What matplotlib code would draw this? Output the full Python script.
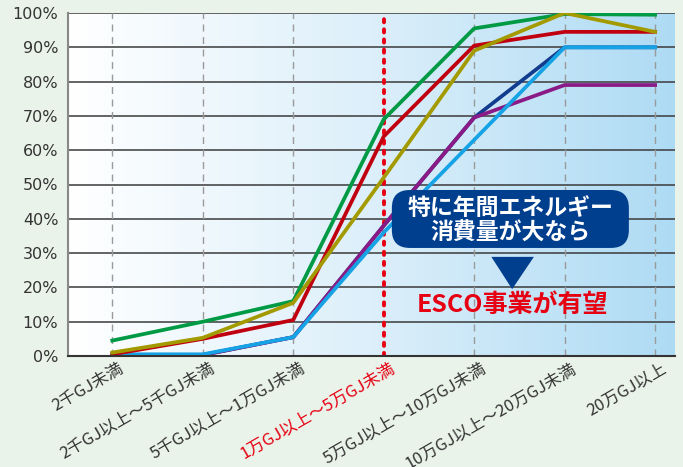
import numpy as np
import matplotlib.pyplot as plt
from matplotlib.patches import FancyBboxPatch, Polygon
from matplotlib.colors import LinearSegmentedColormap
from matplotlib import transforms

plt.rcParams['font.family'] = ['Noto Sans CJK JP', 'DejaVu Sans']

categories = ['2千GJ未満', '2千GJ以上～5千GJ未満', '5千GJ以上～1万GJ未満',
              '1万GJ以上～5万GJ未満', '5万GJ以上～10万GJ未満',
              '10万GJ以上～20万GJ未満', '20万GJ以上']
green = [4.5, 10, 16, 69, 95.5, 99.7, 99.5]
red = [0.5, 5, 10.5, 64, 90.5, 94.5, 94.5]
olive = [1, 5.3, 15.5, 52, 89, 100, 94.5]
navy = [0.3, 0.3, 5.5, 38, 69.5, 90, 90]
purple = [0.3, 0.3, 5.5, 38, 69.5, 79, 79]
lightblue = [0.5, 0.5, 5.5, 36, 63, 90, 90]
yticks = [0, 10, 20, 30, 40, 50, 60, 70, 80, 90, 100]

fig = plt.figure(figsize=(6.83, 4.67), dpi=100, facecolor='#EAF3EA')
ax = fig.add_axes([68/683, 1-356/467, 607/683, 343/467])
x = np.arange(len(categories))
x0, x1 = -0.49, 6.22
ax.set_xlim(x0, x1)
ax.set_ylim(0, 100)

# gradient background
cmap = LinearSegmentedColormap.from_list('bg', ['#FFFFFF', '#DCEFFA', '#AEDBF4'])
grad = np.linspace(0, 1, 256).reshape(1, -1)
ax.imshow(grad, cmap=cmap, extent=[x0, x1, 0, 100], aspect='auto', zorder=0)

for yv in yticks[1:]:
    ax.axhline(yv, color='#3a3a3a', lw=1.1, zorder=1)
for i in x:
    if i == 3:
        ax.plot([i, i], [0, 100], color='#E60012', lw=2.8, ls=(0, (0.8, 1.8)),
                dash_capstyle='round', zorder=1.5)
    else:
        ax.plot([i, i], [0, 100], color='#9a9a9a', lw=1, ls=(0, (5, 4)), zorder=1)

lw = 2.7
ax.plot(x, navy, color='#123C8E', lw=lw, zorder=3)
ax.plot(x, purple, color='#8A1A86', lw=lw, zorder=3.1)
ax.plot(x, lightblue, color='#16A3E6', lw=lw, zorder=3.2)
ax.plot(x, red, color='#C0000F', lw=lw, zorder=3.3)
ax.plot(x, green, color='#009A44', lw=lw, zorder=3.4)
ax.plot(x, olive, color='#A39A00', lw=lw, zorder=3.5)

for s in ['top', 'right']:
    ax.spines[s].set_visible(False)
ax.spines['left'].set_color('#888888')
ax.spines['left'].set_linewidth(1.5)
ax.spines['bottom'].set_color('#333333')
ax.spines['bottom'].set_linewidth(1.5)
ax.spines['left'].set_zorder(4)
ax.spines['bottom'].set_zorder(4)

ax.set_yticks(yticks)
ax.set_yticklabels([f'{v}%' for v in yticks], fontsize=11.5, color='#333333',
                   family='DejaVu Sans')
ax.tick_params(axis='y', length=0, pad=7)
ax.set_xticks([])

tr = transforms.offset_copy(ax.get_xaxis_transform(), fig=fig, x=6, y=-4, units='dots')
for i, lab in enumerate(categories):
    ax.text(i, 0, lab, transform=tr, rotation=30, ha='right', va='top',
            rotation_mode='anchor', fontsize=12, color='#E60012' if i == 3 else '#333333')

# callout
box = FancyBboxPatch((3.09 + 0.2, 31.5 + 5.2), 2.62 - 0.4, 16.9 - 10.4,
                     boxstyle='round,pad=0.2,rounding_size=0.2', mutation_aspect=26,
                     facecolor='#003E8E', edgecolor='none', zorder=5)
ax.add_patch(box)
ax.text(4.40, 42.9, '特に年間エネルギー', ha='center', va='center', color='white',
        fontsize=16.5, fontweight='bold', zorder=6)
ax.text(4.40, 35.9, '消費量が大なら', ha='center', va='center', color='white',
        fontsize=16.5, fontweight='bold', zorder=6)
ax.add_patch(Polygon([(4.19, 28.9), (4.66, 28.9), (4.42, 19.5)], closed=True,
                     facecolor='#003E8E', edgecolor='none', zorder=5))
ax.text(4.42, 14.9, 'ESCO事業が有望', ha='center', va='center', color='#E60012',
        fontsize=18, fontweight='bold', zorder=6)

fig.savefig('out.png', dpi=100, facecolor=fig.get_facecolor())
